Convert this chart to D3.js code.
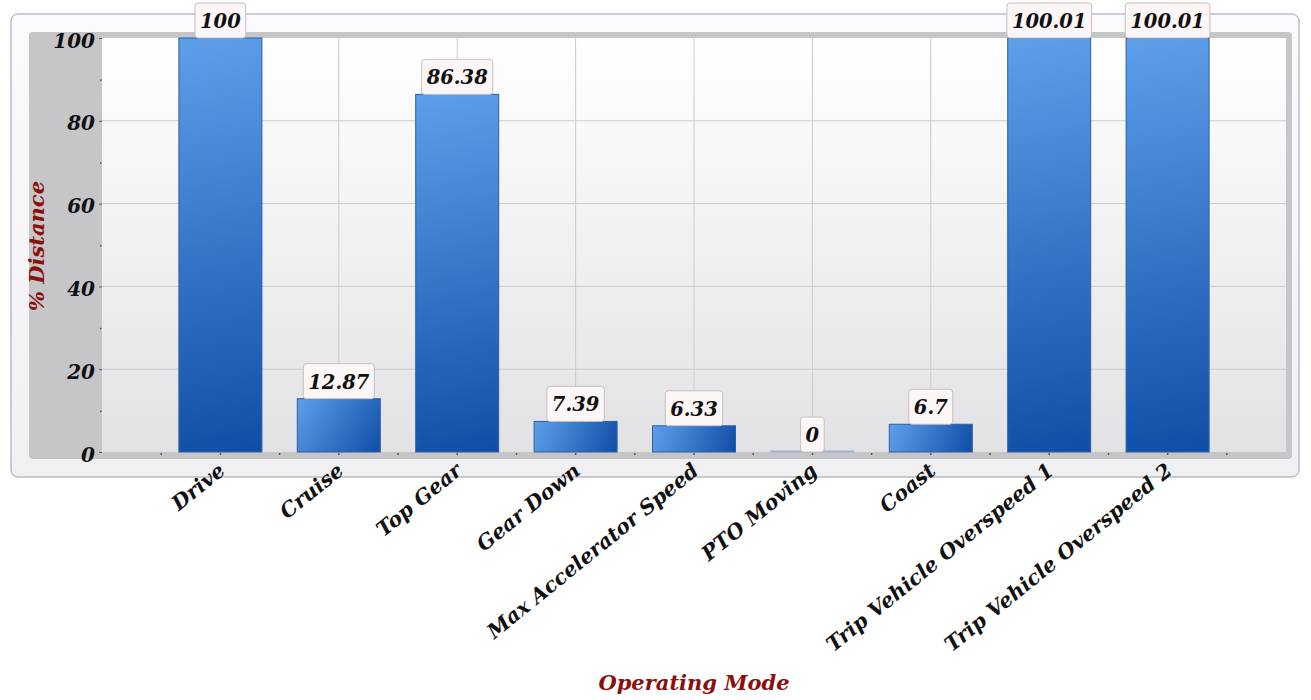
<!DOCTYPE html>
<html><head><meta charset="utf-8">
<script src="https://cdn.jsdelivr.net/npm/d3@7"></script>
<style>body{margin:0;background:#fff}svg{display:block}</style>
</head><body>
<svg id="c" width="1311" height="700"></svg>
<script>
const categories = ["Drive","Cruise","Top Gear","Gear Down","Max Accelerator Speed","PTO Moving","Coast","Trip Vehicle Overspeed 1","Trip Vehicle Overspeed 2"];
const values = [100, 12.87, 86.38, 7.39, 6.33, 0, 6.7, 100.01, 100.01];
const valueLabels = ["100","12.87","86.38","7.39","6.33","0","6.7","100.01","100.01"];
const yTicks = [0,20,40,60,80,100];
const yMinorTicks = [10,30,50,70,90];

const svg = d3.select("#c");
const L = 102, R = 1286, T = 38, B = 452;
const x = d3.scaleLinear().domain([0, categories.length + 1]).range([L, R]);
const y = d3.scaleLinear().domain([0, 100]).range([B, T]);
const font = "'DejaVu Serif', serif";

const defs = svg.append("defs");
const bg = defs.append("linearGradient").attr("id","bg").attr("x1",0).attr("y1",0).attr("x2",0).attr("y2",1);
bg.append("stop").attr("offset","0%").attr("stop-color","#ffffff");
bg.append("stop").attr("offset","100%").attr("stop-color","#e2e2e4");
const fr = defs.append("linearGradient").attr("id","fr").attr("x1",0).attr("y1",0).attr("x2",0).attr("y2",1);
fr.append("stop").attr("offset","0%").attr("stop-color","#fbfbfd");
fr.append("stop").attr("offset","100%").attr("stop-color","#f0f0f3");

// frame
svg.append("rect").attr("x",11).attr("y",14).attr("width",1288).attr("height",463).attr("rx",7)
  .attr("fill","url(#fr)").attr("stroke","#9c9cb4").attr("stroke-width",1);
// 3D walls
svg.append("rect").attr("x",29).attr("y",32).attr("width",1263).attr("height",427).attr("rx",4).attr("fill","#c6c6c8");
svg.append("rect").attr("x",L).attr("y",T).attr("width",R-L).attr("height",B-T).attr("fill","url(#bg)");

// grid
const g = svg.append("g");
g.selectAll(".hg").data(yTicks.filter(d=>d>0 && d<100)).join("line")
  .attr("x1",L).attr("x2",R).attr("y1",d=>y(d)).attr("y2",d=>y(d))
  .attr("stroke","#cbcbcd").attr("stroke-width",1);
g.selectAll(".vg").data(categories).join("line")
  .attr("x1",(d,i)=>x(i+1)).attr("x2",(d,i)=>x(i+1)).attr("y1",T).attr("y2",B)
  .attr("stroke","#cbcbcd").attr("stroke-width",1);

// axes
const yAxis = d3.axisLeft(y).tickValues(yTicks).tickSize(3).tickPadding(4);
const ya = svg.append("g").attr("transform",`translate(${L},0)`).call(yAxis);
ya.select(".domain").remove();
ya.selectAll("line").attr("stroke","#555");
ya.selectAll("text").attr("font-family",font).attr("font-weight","bold").attr("font-style","italic")
  .attr("font-size",20).attr("fill","#111").attr("dy","0.45em");
svg.append("g").selectAll("rect").data(yMinorTicks).join("rect")
  .attr("x",L-2).attr("y",d=>y(d)).attr("width",1.5).attr("height",1.5).attr("fill","#555");

const xTickVals = d3.range(0.5, categories.length + 1, 0.5);
svg.append("g").selectAll("rect").data(xTickVals).join("rect")
  .attr("x",d=>x(d)-0.75).attr("y",B+1).attr("width",1.5).attr("height",2).attr("fill","#555");

// bars (gradient along each bar's diagonal in user space)
const bw = 83;
values.forEach((v,i)=>{
  const x0 = x(i+1)-bw/2, y0 = y(Math.min(v,100)), h = Math.max(B - y0, 1);
  const gr = defs.append("linearGradient").attr("id","bar"+i).attr("gradientUnits","userSpaceOnUse")
    .attr("x1",x0).attr("y1",B-h).attr("x2",x0+bw).attr("y2",B);
  gr.append("stop").attr("offset","0%").attr("stop-color","#5e9fea");
  gr.append("stop").attr("offset","100%").attr("stop-color","#0f4ea6");
});
svg.append("g").selectAll("rect").data(values).join("rect")
  .attr("x",(d,i)=>x(i+1)-bw/2).attr("width",bw)
  .attr("y",d=>B - Math.max(B - y(Math.min(d,100)), 1)).attr("height",d=>Math.max(B - y(Math.min(d,100)), 1))
  .attr("fill",(d,i)=>`url(#bar${i})`).attr("stroke",(d)=>d===0?"#9cb4d6":"#2d5f9f").attr("stroke-width",1);

// value labels
const lg = svg.append("g");
values.forEach((v,i)=>{
  const cx = x(i+1), top = y(Math.min(v,100));
  const t = lg.append("text").attr("x",cx).attr("y",top-10).attr("text-anchor","middle")
    .attr("font-family",font).attr("font-weight","bold").attr("font-style","italic")
    .attr("font-size",19.5).attr("fill","#111").text(valueLabels[i]);
  const w = t.node().getComputedTextLength();
  lg.insert("rect","text").attr("x",cx-w/2-5).attr("y",top-35).attr("width",w+10).attr("height",35)
    .attr("rx",3).attr("fill","#fdf6f6").attr("stroke","#c4c0c0").attr("stroke-width",1);
});

// x labels
svg.append("g").selectAll("text").data(categories).join("text")
  .attr("transform",(d,i)=>`translate(${x(i+1)+6},${B+21}) rotate(-39)`)
  .attr("text-anchor","end")
  .attr("font-family",font).attr("font-weight","bold").attr("font-style","italic")
  .attr("font-size",20.5).attr("fill","#111").text(d=>d);

// axis titles
svg.append("text").attr("x",694).attr("y",690).attr("text-anchor","middle")
  .attr("font-family",font).attr("font-weight","bold").attr("font-style","italic")
  .attr("font-size",21).attr("fill","#8b0f0f").text("Operating Mode");
svg.append("text").attr("transform","translate(44,246) rotate(-90)").attr("text-anchor","middle")
  .attr("font-family",font).attr("font-weight","bold").attr("font-style","italic")
  .attr("font-size",21).attr("fill","#8b0f0f").text("% Distance");
</script>
</body></html>
